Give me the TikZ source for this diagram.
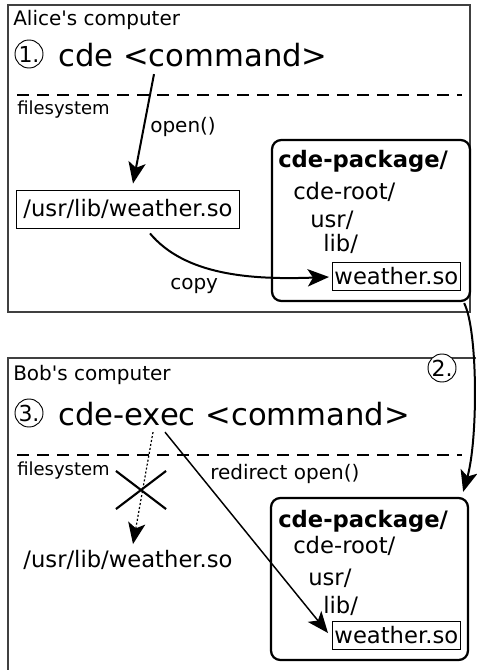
\documentclass[tikz,border=0pt]{standalone}
\usepackage{fontspec}
\setmainfont{DejaVu Sans}
\usetikzlibrary{arrows.meta, calc, shapes.misc}

\begin{document}
\begin{tikzpicture}[
    x=0.75pt, y=-0.75pt,
    >={Stealth[length=16pt, width=13pt, inset=4pt]},
    frame/.style={draw=black!75, line width=0.8pt},
    sep/.style={dash pattern=on 9pt off 6pt, line width=0.8pt},
    title/.style={anchor=west, inner sep=0pt, font=\fontsize{15}{18}\selectfont},
    cmd/.style={anchor=west, inner sep=0pt, font=\fontsize{23}{28}\selectfont},
    num/.style={draw, circle, inner sep=0pt, minimum size=21pt, fill=white,
        line width=0.7pt, font=\fontsize{16.5}{18}\selectfont},
    small/.style={anchor=west, inner sep=0pt, font=\fontsize{13.5}{16}\selectfont},
    lbl/.style={anchor=west, inner sep=0pt, font=\fontsize{15}{18}\selectfont},
    fpath/.style={inner sep=0pt, font=\fontsize{17}{20}\selectfont},
    pathbox/.style={fpath, draw, line width=0.7pt, inner xsep=5pt, minimum height=28.5pt},
    pkg/.style={draw, rounded corners=7pt, line width=1.7pt},
    entry/.style={anchor=west, inner sep=0pt, font=\fontsize{17}{20}\selectfont},
    pkgname/.style={entry, font=\fontsize{17}{20}\selectfont\bfseries},
    filebox/.style={entry, draw, line width=0.7pt, inner xsep=1.5pt, minimum height=21pt},
    arr/.style={->, line width=1.5pt},
]
\useasboundingbox (0,0) rectangle (476,670);

% ---- Alice's computer ----
\draw[frame] (8,5) rectangle (470,312);
\node[title] (alice) at (13,20) {Alice\textquotesingle s computer};
\node[num] (n1) at (29,54) {1.};
\node[cmd] (cmdA) at (58,55) {cde <command>};
\draw[sep] (17,95) -- (462,95);
\node[small] (fsA) at (17,110) {filesystem};
\node[lbl] (openL) at (150,127) {open()};
\node[pathbox] (usrA) at (128,209) {/usr/lib/weather.so};

\node[pkg, minimum width=148.5pt, minimum height=120.75pt] (pkgA) at (371,220.5) {};
\node[pkgname] (pkgnA) at (278,161) {cde-package/};
\node[entry] (rootA) at (293,192) {cde-root/};
\node[entry] (usrdA) at (310,220) {usr/};
\node[entry] (libA) at (323,244) {lib/};
\node[filebox] (wA) at (332,276) {weather.so};

\draw[arr] ($(cmdA.south west)+(96,7)$) -- ($(usrA.north)+(5,-6)$);
\draw[arr] ($(usrA.south)+(22,5)$) .. controls (185,275) and (250,280) .. ($(wA.west)+(-3,1)$);
\node[lbl] (copyL) at (170,286) {copy};

% ---- Bob's computer ----
\draw[frame] (476,358) -- (8,358) -- (8,670);
\node[title] (bob) at (13,375) {Bob\textquotesingle s computer};
\node[num] (n3) at (29,413) {3.};
\node[cmd] (cmdB) at (58,414) {cde-exec <command>};
\draw[sep] (17,455) -- (462,455);
\node[small] (fsB) at (17,471) {filesystem};
\node[lbl] (redirL) at (210,474) {redirect open()};
\node[fpath] (usrB) at (128,560) {/usr/lib/weather.so};

\node[pkg, minimum width=147.75pt, minimum height=121.5pt] (pkgB) at (369.5,579) {};
\node[pkgname] (pkgnB) at (278,521) {cde-package/};
\node[entry] (rootB) at (293,546) {cde-root/};
\node[entry] (usrdB) at (308,578) {usr/};
\node[entry] (libB) at (323,606) {lib/};
\node[filebox] (wB) at (332,635) {weather.so};

\draw[->, line width=0.9pt, dash pattern=on 1.5pt off 1.5pt]
    ($(cmdB.south west)+(95,6)$) -- ($(usrB.north)+(5,-6)$);
\node[draw, cross out, line width=1.6pt, minimum width=36pt, minimum height=27pt] (noX) at (141,490) {};
\draw[->, line width=1.1pt] ($(cmdB.south west)+(107,6)$) -- ($(wB.west)+(-4,-2)$);

% ---- step 2: ship the package ----
\draw[arr] ($(pkgA.south east)+(-7,1)$) .. controls (478,330) and (478,440) .. ($(pkgB.north east)+(-6,-5)$);
\node[num] (n2) at (442,368) {2.};

\end{tikzpicture}
\end{document}
